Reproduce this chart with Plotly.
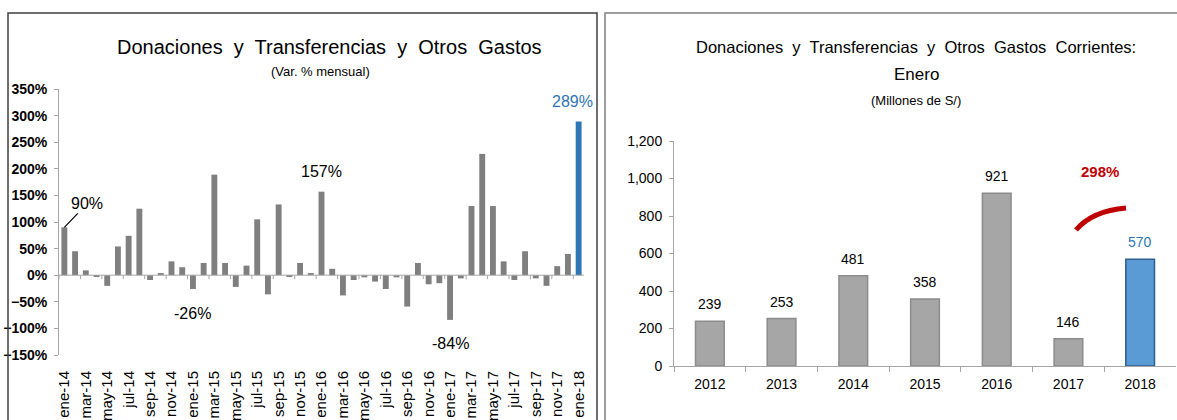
import plotly.graph_objects as go

W, H = 1177, 420

# serie mensual (var. %), ene-14 a ene-18
meses = [
    "ene-14", "feb-14", "mar-14", "abr-14", "may-14", "jun-14", "jul-14", "ago-14",
    "sep-14", "oct-14", "nov-14", "dic-14",
    "ene-15", "feb-15", "mar-15", "abr-15", "may-15", "jun-15", "jul-15", "ago-15",
    "sep-15", "oct-15", "nov-15", "dic-15",
    "ene-16", "feb-16", "mar-16", "abr-16", "may-16", "jun-16", "jul-16", "ago-16",
    "sep-16", "oct-16", "nov-16", "dic-16",
    "ene-17", "feb-17", "mar-17", "abr-17", "may-17", "jun-17", "jul-17", "ago-17",
    "sep-17", "oct-17", "nov-17", "dic-17",
    "ene-18",
]
var_mensual = [
    90, 45, 9, -3, -20, 54, 74, 125, -9, 4, 26, 15,
    -26, 23, 189, 23, -22, 18, 105, -36, 133, -3, 23, 4,
    157, 12, -38, -9, -4, -12, -26, -4, -59, 23, -17, -15,
    -84, -6, 130, 228, 130, 26, -9, 45, -6, -20, 17, 40,
    289,
]
# etiquetas destacadas: (mes, texto)
destacados = [("ene-14", "90%"), ("ene-15", "-26%"), ("ene-16", "157%"),
              ("ene-17", "-84%"), ("ene-18", "289%")]

# enero de cada año (millones de S/)
anios = ["2012", "2013", "2014", "2015", "2016", "2017", "2018"]
millones = [239, 253, 481, 358, 921, 146, 570]
var_anual = "298%"

FONT = "Liberation Sans, Arial"
GRAY_AX = "#A6A6A6"


def px(x):
    return x / W


def py(y):
    return 1 - y / H


# dominios de los ejes (en pixeles)
L_X0, L_X1, L_Y0, L_Y1 = 59, 584, 89, 355
R_X0, R_X1, R_Y0, R_Y1 = 674, 1176, 141, 366
y_min, y_max = -150, 350

fig = go.Figure()

colores_l = ["#7F7F7F"] * (len(var_mensual) - 1) + ["#2E75B6"]
fig.add_trace(go.Bar(
    x=meses, y=var_mensual, marker=dict(color=colores_l, line=dict(width=0)),
    width=0.55, xaxis="x", yaxis="y", showlegend=False,
))

colores_r = ["#A6A6A6"] * (len(millones) - 1) + ["#5B9BD5"]
bordes_r = ["#8C8C8C"] * (len(millones) - 1) + ["#2F5F8F"]
fig.add_trace(go.Bar(
    x=anios, y=millones, marker=dict(color=colores_r, line=dict(color=bordes_r, width=1.5)),
    width=0.4, xaxis="x2", yaxis="y2", showlegend=False,
))

annotations = []
for mes, txt in destacados:
    i = meses.index(mes)
    v = var_mensual[i]
    color = "#2E75B6" if i == len(meses) - 1 else "#000000"
    if i == 0:
        annotations.append(dict(x=i, y=v, xref="x", yref="y", text=txt,
                                showarrow=True, arrowhead=0, arrowwidth=1.2,
                                arrowcolor="#000000", ax=23, ay=-24,
                                font=dict(family=FONT, size=16, color=color)))
    else:
        annotations.append(dict(x=i, y=v, xref="x", yref="y", text=txt, xanchor="center",
                                showarrow=False, yshift=20 if v > 0 else -24,
                                xshift=-6 if i == len(meses) - 1 else 0,
                                font=dict(family=FONT, size=16, color=color)))

for i, v in enumerate(millones):
    annotations.append(dict(x=i, y=v, xref="x2", yref="y2", text=f"{v:,}",
                            showarrow=False, yshift=17, xanchor="center",
                            font=dict(family=FONT, size=14,
                                      color="#2E75B6" if i == len(millones) - 1 else "#000000")))

titulos = [
    (330, 47, "Donaciones  y  Transferencias  y  Otros  Gastos", 20, "#000000"),
    (320, 71, "(Var. % mensual)", 13, "#000000"),
    (916, 47, "Donaciones  y  Transferencias  y  Otros  Gastos  Corrientes:", 16.5, "#000000"),
    (916, 74, "Enero", 17, "#000000"),
    (916, 100, "(Millones de S/)", 13, "#000000"),
    (1100, 171, f"<b>{var_anual}</b>", 15, "#C00000"),
]
for x, y, txt, size, color in titulos:
    annotations.append(dict(x=px(x), y=py(y), xref="paper", yref="paper", text=txt,
                            showarrow=False, xanchor="center", yanchor="middle",
                            font=dict(family=FONT, size=size, color=color)))

shapes = [
    dict(type="rect", xref="paper", yref="paper", x0=px(8), x1=px(597), y0=-0.1, y1=py(13),
         line=dict(color="#3F3F3F", width=1.5)),
    dict(type="rect", xref="paper", yref="paper", x0=px(605), x1=1.1, y0=-0.1, y1=py(13),
         line=dict(color="#7F7F7F", width=1.5)),
    dict(type="path", xref="paper", yref="paper",
         path=f"M {px(1076)} {py(230)} Q {px(1092)} {py(211)} {px(1126)} {py(208)}",
         line=dict(color="#C00000", width=5)),
    # eje horizontal en 0 del grafico mensual
    dict(type="line", xref="x domain", yref="y", x0=0, x1=1, y0=0, y1=0,
         line=dict(color=GRAY_AX, width=1)),
]
# marcas del eje en 0, cada dos meses
for i in range(0, len(meses), 2):
    shapes.append(dict(type="line", xref="x", yref="y", ysizemode="pixel", yanchor=0,
                       x0=i - 0.5, x1=i - 0.5, y0=0, y1=-4,
                       line=dict(color=GRAY_AX, width=1)))

fig.update_layout(
    template="none",
    width=W, height=H,
    margin=dict(l=0, r=0, t=0, b=0, pad=0),
    paper_bgcolor="white", plot_bgcolor="rgba(0,0,0,0)",
    font=dict(family=FONT, color="#000000"),
    annotations=annotations,
    shapes=shapes,
    xaxis=dict(
        domain=[px(L_X0), px(L_X1)], anchor="y", type="category", automargin=False,
        range=[-0.5, len(meses) - 0.5],
        tickvals=meses[::2], tickangle=-90, ticks="", showline=False, showgrid=False,
        zeroline=False, tickfont=dict(family=FONT, size=15, color="#000000"),
        ticklabelstandoff=12,
    ),
    yaxis=dict(
        domain=[py(L_Y1), py(L_Y0)], anchor="x", range=[y_min, y_max], dtick=50,
        automargin=False, ticksuffix="%", showgrid=False, zeroline=False, showline=True,
        linecolor=GRAY_AX, ticks="outside", ticklen=4, tickcolor=GRAY_AX,
        ticklabelstandoff=4,
        tickfont=dict(family=FONT, size=14, color="#000000", weight="bold"),
    ),
    xaxis2=dict(
        domain=[px(R_X0), px(R_X1)], anchor="y2", type="category", automargin=False,
        range=[-0.5, len(anios) - 0.5],
        showline=True, linecolor=GRAY_AX, ticks="outside", tickson="boundaries",
        ticklen=5, tickcolor=GRAY_AX, showgrid=False, zeroline=False, tickangle=0,
        tickfont=dict(family=FONT, size=14, color="#000000"), ticklabelstandoff=5,
    ),
    yaxis2=dict(
        domain=[py(R_Y1), py(R_Y0)], anchor="x2", range=[0, 1200], dtick=200,
        automargin=False, tickformat=",", showgrid=False, zeroline=False, showline=True,
        linecolor=GRAY_AX, ticks="outside", ticklen=4, tickcolor=GRAY_AX,
        ticklabelstandoff=4, tickfont=dict(family=FONT, size=14, color="#000000"),
    ),
)

fig.write_html("out.html", config={"displayModeBar": False},
               post_script="document.body.style.margin='0px';")
